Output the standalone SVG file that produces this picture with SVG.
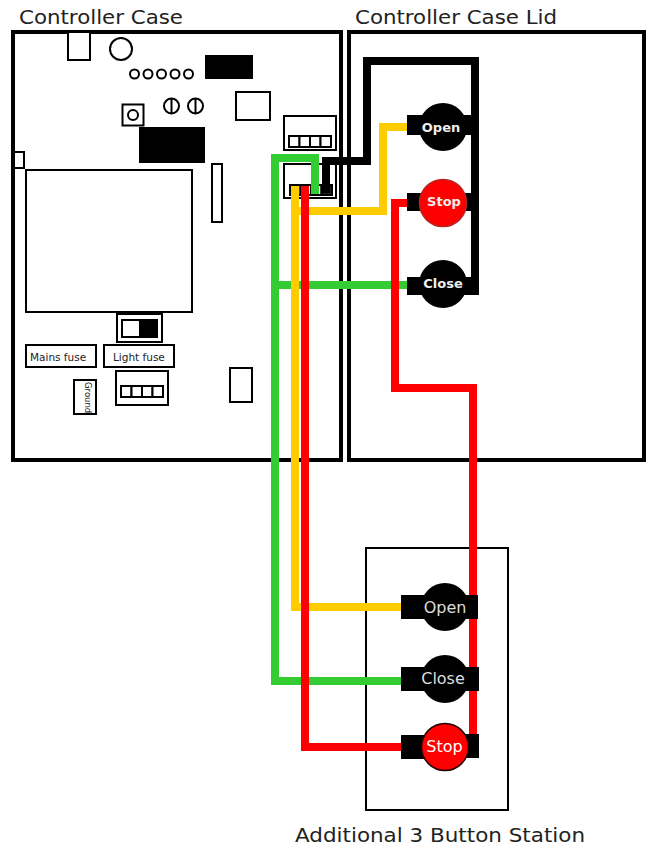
<svg xmlns="http://www.w3.org/2000/svg" width="646" height="846" viewBox="0 0 646 846">
<style>
text{font-family:"DejaVu Sans","Liberation Sans",sans-serif}
.o{fill:#fff;stroke:#000;stroke-width:2}
.n{fill:none;stroke:#000;stroke-width:2}
.c{fill:none;stroke:#000;stroke-width:4}
.k{fill:#000}
.w{fill:none;stroke-width:8;stroke-linejoin:miter}
.t{font-size:20px;fill:#222}
.f{font-size:10.5px;fill:#222}
.bl{font-size:13px;font-weight:bold;fill:#eee;text-anchor:middle}
.bs{font-size:16px;fill:#ddd;text-anchor:middle}
</style>
<rect width="646" height="846" fill="#fff"/>
<g id="case">
<rect class="c" x="13" y="32" width="328" height="428"/>
<text class="t" x="19" y="24" textLength="164" lengthAdjust="spacingAndGlyphs">Controller Case</text>
<rect class="o" x="68" y="32" width="22" height="28"/>
<circle class="n" cx="121" cy="49" r="11"/>
<circle class="n" cx="134.500" cy="74" r="4.500"/>
<circle class="n" cx="148" cy="74" r="4.500"/>
<circle class="n" cx="161.500" cy="74" r="4.500"/>
<circle class="n" cx="175" cy="74" r="4.500"/>
<circle class="n" cx="188.500" cy="74" r="4.500"/>
<rect class="k" x="205" y="55" width="48" height="24"/>
<circle class="n" cx="171.500" cy="106" r="7.500"/><path class="n" d="M171.500 98V114"/>
<circle class="n" cx="195.500" cy="106" r="7.500"/><path class="n" d="M195.500 98V114"/>
<rect class="o" x="122.500" y="104.500" width="21" height="21"/>
<circle class="n" cx="133" cy="115" r="5"/>
<rect class="k" x="139" y="127" width="66" height="36"/>
<rect class="o" x="14" y="152" width="10" height="16"/>
<rect class="o" x="26" y="170" width="166" height="142"/>
<rect class="o" x="236" y="92" width="34" height="28"/>
<rect class="o" x="212" y="164" width="10" height="58"/>
<rect class="o" x="117" y="314" width="45" height="28"/>
<rect class="o" x="122" y="320" width="35" height="17"/>
<rect class="k" x="139" y="319" width="18" height="18"/>
<rect class="o" x="26" y="345" width="70" height="22"/>
<text class="f" x="30" y="361">Mains fuse</text>
<rect class="o" x="104" y="345" width="70" height="22"/>
<text class="f" x="113" y="361">Light fuse</text>
<rect class="o" x="116" y="371" width="52" height="34"/>
<rect class="o" x="121" y="386" width="10.500" height="11"/><rect class="o" x="131.500" y="386" width="10.500" height="11"/><rect class="o" x="142" y="386" width="10.500" height="11"/><rect class="o" x="152.500" y="386" width="10.500" height="11"/>
<rect class="o" x="74" y="380" width="22" height="34"/>
<text transform="translate(85 382) rotate(90)" font-size="8.500" fill="#222">Ground</text>
<rect class="o" x="230" y="368" width="22" height="34"/>
</g>
<g id="terminal-upper">
<rect class="o" x="284" y="116" width="52" height="34"/>
<rect class="o" x="289" y="136" width="10.500" height="11"/><rect class="o" x="299.500" y="136" width="10.500" height="11"/><rect class="o" x="310" y="136" width="10.500" height="11"/><rect class="o" x="320.500" y="136" width="10.500" height="11"/>
</g>
<g id="terminal-lower">
<rect class="o" x="284" y="164" width="52" height="34"/>
<rect class="o" x="290" y="185" width="10.500" height="10"/><rect class="o" x="300.500" y="185" width="10.500" height="10"/><rect class="o" x="311" y="185" width="10.500" height="10"/><rect class="o" x="321.500" y="185" width="10.500" height="10" style="fill:#222"/>
</g>
<g id="lid">
<rect class="c" x="349" y="32" width="295" height="428"/>
<text class="t" x="355" y="24" textLength="202" lengthAdjust="spacingAndGlyphs">Controller Case Lid</text>
</g>
<g id="station">
<rect class="o" x="366" y="548" width="142" height="262"/>
<text class="t" x="295" y="842" textLength="290" lengthAdjust="spacingAndGlyphs">Additional 3 Button Station</text>
</g>
<g id="connectors">
<path class="w" stroke="#3c3" d="M315 194V158H275V681H402M275 285H407"/>
<path class="w" stroke="#fc0" d="M295 186V607H402M295 211H383V127H407"/>
<path class="w" stroke="#f00" d="M305 186V747H402"/>
<path class="w" stroke="#f00" d="M407 203H395V388H473V736"/>
<path class="w" stroke="#000" d="M326 193V161H367V61H475V290"/>
</g>
<g id="btn-lid-open">
<rect class="k" x="407" y="115" width="72" height="20"/><circle class="k" cx="443" cy="127" r="24"/>
<text class="bl" x="441" y="132">Open</text>
</g>
<g id="btn-lid-stop">
<rect class="k" x="407" y="193" width="72" height="18"/><circle cx="443" cy="203" r="23.500" fill="#f00" stroke="#b22" stroke-width="1.500"/>
<text class="bl" x="444" y="206">Stop</text>
</g>
<g id="btn-lid-close">
<rect class="k" x="407" y="277" width="72" height="18"/><circle class="k" cx="443" cy="284" r="24"/>
<text class="bl" x="443" y="288">Close</text>
</g>
<g id="btn-open">
<rect class="k" x="401" y="595" width="77" height="24"/><circle class="k" cx="445" cy="607" r="24"/>
<text class="bs" x="445" y="613">Open</text>
</g>
<g id="btn-close">
<rect class="k" x="401" y="667" width="78" height="24"/><circle class="k" cx="445" cy="679" r="24"/>
<text class="bs" x="443" y="684">Close</text>
</g>
<g id="btn-stop">
<rect class="k" x="401" y="735" width="40" height="24"/><rect class="k" x="440" y="734" width="39" height="24"/><circle cx="445" cy="747" r="23.500" fill="#f00" stroke="#200" stroke-width="1.500"/>
<text class="bs" x="444.500" y="752" style="fill:#fff">Stop</text>
</g>
</svg>
